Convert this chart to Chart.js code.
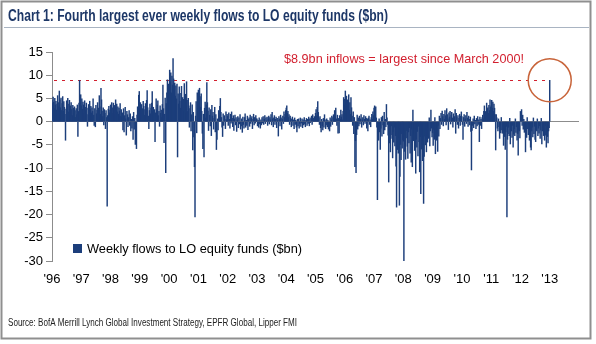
<!DOCTYPE html>
<html>
<head>
<meta charset="utf-8">
<script src="https://cdn.jsdelivr.net/npm/chart.js@4.4.0/dist/chart.umd.min.js"></script>
<style>
  html, body { margin: 0; padding: 0; background: #fff; }
  #wrap { width: 596px; height: 344px; }
</style>
</head>
<body>
<div id="wrap"><canvas id="flows" width="596" height="344"></canvas></div>
<script>
// weekly flows to long-only equity funds, $bn, one array per calendar year
const years = [1996, 1997, 1998, 1999, 2000, 2001, 2002, 2003, 2004, 2005, 2006, 2007, 2008, 2009, 2010, 2011, 2012, 2013];
const yearLabels = ["'96", "'97", "'98", "'99", "'00", "'01", "'02", "'03", "'04", "'05", "'06", "'07", "'08", "'09", "'10", "'11", "'12", "'13"];

const flows1996 = [4.6,3.9,5.3,4.2,2.8,5.0,3.6,4.4,2.5,3.8,5.6,4.1,3.2,6.6,4.7,3.0,5.1,2.4,3.9,5.4,2.2,4.3,3.1,1.6,-4.0,2.7,4.5,3.3,5.0,2.1,3.8,4.6,1.9,3.4,4.1,2.6,1.3,3.5,2.9,1.8,3.2,2.4,0.9,2.8,1.5,3.6,-3.2,2.2,4.0,8.9,5.4,5.8];
const flows1997 = [3.4,4.9,2.7,4.2,3.6,1.8,4.5,3.1,2.4,4.0,1.5,-1.0,2.9,3.7,1.2,4.4,2.6,3.3,1.9,3.0,2.2,4.9,1.4,-0.8,2.8,-1.1,3.5,1.7,2.5,4.1,1.0,2.9,5.6,3.2,1.6,7.2,4.7,2.3,1.1,3.0,-0.7,2.6,1.8,-1.5,2.4,0.9,-18.2,1.3,2.7,3.3,1.9,2.5];
const flows1998 = [3.6,2.4,4.1,3.0,1.8,4.0,2.7,3.5,1.4,4.7,2.9,3.8,2.1,3.2,1.6,2.9,2.3,3.9,1.2,2.6,0.8,1.9,-1.8,2.8,-2.2,1.3,3.1,0.6,-2.9,2.2,1.5,-1.1,0.9,2.4,-0.8,1.7,-2.0,0.5,-1.4,1.1,-3.8,2.0,-1.6,0.7,-4.9,-2.7,-5.8,1.4,3.2,2.1,5.7,6.5];
const flows1999 = [3.2,4.1,2.5,3.7,1.9,2.8,4.4,3.3,1.4,2.6,3.9,2.2,4.6,6.7,3.0,1.2,-1.5,2.4,3.8,1.7,2.9,4.0,6.5,2.3,3.1,1.0,2.6,-4.3,1.9,4.9,2.7,3.6,4.5,1.3,2.2,-1.0,3.4,1.8,2.5,0.9,3.7,7.9,2.8,-4.5,1.6,5.1,-11.0,3.9,6.2,9.0,6.5,8.1];
const flows2000 = [7.4,11.1,8.6,10.5,6.2,9.8,7.9,13.6,9.2,6.8,8.3,5.5,7.7,4.9,8.1,-7.6,6.0,3.8,7.5,4.4,2.9,6.1,7.6,3.5,5.2,2.4,4.8,8.2,3.1,5.9,1.8,8.6,4.6,2.2,5.0,3.4,-1.2,2.8,4.1,-2.0,1.5,3.6,-6.1,2.0,-3.3,-9.7,-20.5,1.2,4.3,-2.4,6.2,3.0];
const flows2001 = [6.8,4.5,7.2,5.4,3.1,6.0,2.2,-2.5,-5.8,1.6,-7.6,2.9,4.2,0.8,3.6,8.4,4.1,2.3,-1.9,3.0,1.4,-0.9,2.6,-3.0,3.5,1.2,2.0,-1.6,0.7,3.1,-2.2,1.5,-6.0,-3.8,0.6,-1.8,2.4,1.1,3.3,5.0,2.0,0.9,-1.2,-3.2,1.7,-0.8,1.3,0.5,-1.5,2.1,0.4,1.6];
const flows2002 = [1.2,-0.8,1.9,0.5,-1.4,1.6,-0.3,2.1,0.7,-1.1,1.3,-1.9,0.6,1.4,-0.7,0.9,-2.1,0.4,1.1,-1.3,0.8,-0.5,1.5,-1.6,-0.9,0.6,-2.3,1.0,-0.6,-1.4,0.9,1.7,-1.2,0.3,-0.8,1.2,-1.7,0.5,0.8,-1.0,1.4,-0.4,0.7,1.1,-1.5,0.5,1.6,-0.7,0.9,-0.3,1.3,0.6];
const flows2003 = [0.6,-0.9,0.3,-1.2,0.8,-0.5,-1.4,0.4,-0.7,0.9,-0.3,1.1,-0.6,0.5,1.3,-0.4,0.8,0.2,1.0,-0.8,0.6,1.2,-0.5,0.9,0.4,1.5,-0.7,2.0,0.6,-1.1,0.8,1.3,-0.6,0.5,1.0,-1.3,0.7,0.3,-3.1,1.1,0.6,-0.9,1.4,0.8,-1.6,0.5,1.2,-0.4,2.1,0.9,1.6,2.4];
const flows2004 = [2.9,3.4,1.8,2.2,0.9,1.5,-0.6,1.2,0.7,-1.1,0.5,1.0,-0.8,0.4,-1.5,0.8,-0.6,0.3,-1.2,-2.2,0.5,-0.9,0.6,-1.4,-0.4,0.8,-1.0,-0.3,0.6,-1.3,0.4,-0.7,0.9,-0.5,-1.1,0.3,0.7,-0.8,0.5,-0.4,1.0,-0.9,0.6,-0.2,0.8,1.2,-0.6,1.5,0.7,0.4,1.1,0.9];
const flows2005 = [1.8,2.6,1.2,3.1,4.3,2.0,0.8,-0.6,1.1,-1.3,-2.2,0.5,-0.9,-1.8,0.7,-1.2,1.5,0.4,-1.5,-0.7,0.6,-1.1,0.3,-1.6,-0.5,-2.0,0.8,-1.0,0.4,1.2,-0.6,0.9,1.5,0.3,2.4,1.1,2.9,0.6,-0.8,1.4,-2.5,0.7,-2.4,1.3,0.5,2.5,1.0,1.5,0.4,2.2,5.2,3.6];
const flows2006 = [4.8,6.6,3.9,5.5,2.7,4.7,3.3,5.8,2.5,4.1,1.6,5.2,3.0,1.2,-0.8,2.1,-2.6,0.9,-9.7,-4.1,-11.0,-2.8,1.4,-1.6,0.8,-0.9,1.2,-0.5,0.6,1.5,-1.2,0.4,0.9,-0.7,1.3,0.5,-0.4,1.1,0.7,-1.4,0.6,-2.0,0.8,1.2,-0.6,0.4,-1.1,0.9,1.6,0.5,2.1,1.3];
const flows2007 = [2.9,3.4,1.5,3.2,0.8,-1.2,-16.8,-2.5,-4.0,0.6,-2.2,-6.0,-1.4,0.9,-3.1,1.2,-0.7,-2.6,2.0,-1.8,0.5,-1.1,3.7,0.8,-0.6,-2.9,-13.0,-4.6,-1.5,-6.5,-2.8,-0.9,-3.6,-7.8,-2.1,-4.4,-1.2,-5.2,-3.0,-9.6,-18.4,-2.4,-6.0,-6.8,-3.5,-18.0,-11.8,-4.9,-8.2,-2.6,-5.7,-3.9];
const flows2008 = [-4.2,-30.0,-6.4,-2.8,-8.1,-3.5,-1.9,-5.3,-7.9,-2.2,-4.6,-1.3,-6.8,-3.0,-8.7,-1.6,-9.7,2.5,-4.1,-2.6,-6.2,-1.4,-11.1,-3.8,-5.5,-2.1,-7.4,-1.0,-4.3,-10.8,-3.2,-15.5,-5.9,-2.7,-8.4,-4.0,-17.6,-7.5,-3.1,-5.0,-1.8,-6.5,-2.9,-4.4,-1.2,-3.6,0.8,-5.2,-2.0,2.5,-1.4,-3.3];
const flows2009 = [-2.4,-5.1,-1.6,-3.8,0.9,-6.9,-2.2,-4.0,-1.3,-6.4,-0.8,-3.1,1.2,-1.5,0.7,1.8,-0.6,2.3,1.1,-0.9,1.6,0.5,2.4,1.3,-0.7,2.8,1.5,0.6,-1.7,1.9,1.0,2.2,-0.5,1.4,2.0,0.8,-1.2,1.7,0.4,1.1,2.6,-2.5,1.8,0.9,-0.6,1.3,-1.4,0.7,1.6,-0.8,1.2,2.1];
const flows2010 = [1.1,-0.6,-3.8,0.9,1.5,-1.0,0.6,1.3,-0.4,2.0,0.8,-1.0,1.2,0.5,-0.7,1.0,-2.1,-10.4,-1.9,-0.8,0.6,-1.3,1.2,-0.5,0.3,-1.5,0.7,-0.9,1.1,-0.6,0.4,-4.3,1.0,-0.8,0.5,-1.5,0.9,1.4,0.6,2.2,3.4,1.5,2.2,0.9,4.0,2.6,3.0,1.8,3.5,2.4,4.7,3.1];
const flows2011 = [3.4,4.6,2.9,4.2,2.2,3.8,2.9,1.5,-6.1,1.5,0.8,-1.4,-2.0,0.6,-1.1,-3.6,-0.7,-2.4,0.9,-1.8,-2.5,-0.9,-5.1,-1.6,-3.2,-6.0,-2.2,-1.0,-20.5,-3.8,-2.6,-1.2,-3.0,0.7,-4.8,-1.9,-2.0,-3.4,-0.8,-5.5,-2.7,-1.5,-3.0,0.6,-2.3,-1.1,-4.0,-2.6,-7.2,-1.8,-2.0,-3.5];
const flows2012 = [2.2,1.0,2.6,-0.8,1.4,-1.6,0.5,-2.3,-1.1,-6.5,-2.0,-3.4,0.9,-1.5,-2.8,-0.7,-4.0,-1.9,-5.5,-6.1,-2.0,-1.2,-3.3,0.8,-2.6,-1.0,-3.8,-4.3,-1.7,-2.0,0.6,-3.0,-1.4,-2.5,-0.9,-3.6,-1.8,0.7,-4.8,-2.0,-1.2,-3.0,-2.4,-4.0,-0.8,-2.9,-5.5,-1.5,-3.2,-4.6,-2.0,-1.3];
const flows2013 = [8.9];

const chartTitle = "Chart 1: Fourth largest ever weekly flows to LO equity funds ($bn)";
const seriesLabel = "Weekly flows to LO equity funds ($bn)";
const calloutText = "$8.9bn inflows = largest since March 2000!";
const sourceText = "Source: BofA Merrill Lynch Global Investment Strategy, EPFR Global, Lipper FMI";

const BAR = "#1c3e7b";
const RED = "#d21f2e";
const GREY = "#8c8c8c";
const SANS = '"Liberation Sans", Arial, Helvetica, sans-serif';
const NARROW = '"Liberation Sans Narrow", ' + SANS;

const weeklyByYear = [flows1996, flows1997, flows1998, flows1999, flows2000, flows2001, flows2002, flows2003, flows2004,
  flows2005, flows2006, flows2007, flows2008, flows2009, flows2010, flows2011, flows2012, flows2013];

const points = [];
weeklyByYear.forEach((weeks, i) => {
  weeks.forEach((v, w) => points.push({ x: years[i] + w / 52, y: v }));
});
const latest = points[points.length - 1];

// squeeze or stretch a string to a given width
function fitText(ctx, text, x, y, width) {
  const w = ctx.measureText(text).width;
  ctx.save();
  ctx.translate(x, y);
  ctx.scale(width / w, 1);
  ctx.fillText(text, 0, 0);
  ctx.restore();
}

const decor = {
  id: "decor",
  beforeDatasetsDraw(chart) {
    const { ctx, chartArea, scales } = chart;
    const y = Math.round(scales.y.getPixelForValue(latest.y)) + 0.5;
    ctx.save();
    ctx.strokeStyle = RED;
    ctx.lineWidth = 1.2;
    ctx.setLineDash([3, 5]);
    ctx.beginPath();
    ctx.moveTo(chartArea.left + 2, y);
    ctx.lineTo(scales.x.getPixelForValue(latest.x) - 4, y);
    ctx.stroke();
    ctx.restore();
  },
  afterDraw(chart) {
    const { ctx, scales } = chart;
    ctx.save();

    // frame and heading
    ctx.strokeStyle = "#8f8f8f";
    ctx.lineWidth = 2;
    ctx.strokeRect(1.5, 1.5, 589, 337);
    ctx.strokeStyle = "#a9b4c2";
    ctx.lineWidth = 1;
    ctx.beginPath();
    ctx.moveTo(4, 27.5);
    ctx.lineTo(589, 27.5);
    ctx.stroke();

    ctx.textBaseline = "alphabetic";
    ctx.fillStyle = "#1d3767";
    ctx.font = "bold 16px " + NARROW;
    fitText(ctx, chartTitle, 8, 21, 380);

    // callout
    ctx.fillStyle = RED;
    ctx.font = "13px " + SANS;
    fitText(ctx, calloutText, 284, 63, 240);

    const cx = scales.x.getPixelForValue(latest.x);
    const cy = scales.y.getPixelForValue(latest.y);
    ctx.strokeStyle = "#c8643a";
    ctx.lineWidth = 1.5;
    ctx.beginPath();
    ctx.arc(cx, cy, 21.5, 0, Math.PI * 2);
    ctx.stroke();

    // legend
    ctx.fillStyle = BAR;
    ctx.fillRect(73, 244, 9, 9);
    ctx.fillStyle = "#000";
    ctx.font = "13px " + SANS;
    fitText(ctx, seriesLabel, 87, 253, 215);

    // source line
    ctx.fillStyle = "#222";
    ctx.font = "10px " + NARROW;
    fitText(ctx, sourceText, 8, 326, 289);
    ctx.restore();
  }
};

new Chart(document.getElementById("flows"), {
  type: "bar",
  data: {
    datasets: [{
      label: seriesLabel,
      data: points,
      backgroundColor: BAR,
      borderWidth: 0,
      barThickness: 0.8
    }]
  },
  options: {
    responsive: false,
    animation: false,
    layout: { padding: { left: 6, right: 17, top: 52, bottom: 55 } },
    plugins: { legend: { display: false }, tooltip: { enabled: false } },
    scales: {
      x: {
        type: "linear",
        offset: false,
        min: 1996,
        max: 2014,
        afterFit: s => { s.height = 28; },
        ticks: {
          stepSize: 1,
          autoSkip: false,
          maxRotation: 0,
          padding: 11,
          color: "#000",
          font: { family: SANS, size: 13 },
          callback: v => yearLabels[Math.round(v) - 1996] || ""
        },
        grid: { display: false, drawTicks: false, offset: false },
        border: { display: false }
      },
      y: {
        min: -30,
        max: 15,
        afterFit: s => { s.width = 46; },
        ticks: { stepSize: 5, padding: 3, color: "#000", font: { family: SANS, size: 13 } },
        grid: {
          color: c => (c.tick && c.tick.value === 0 ? GREY : "rgba(0,0,0,0)"),
          tickColor: GREY,
          tickLength: 6
        },
        border: { display: true, color: GREY }
      }
    }
  },
  plugins: [decor]
});
</script>
</body>
</html>
